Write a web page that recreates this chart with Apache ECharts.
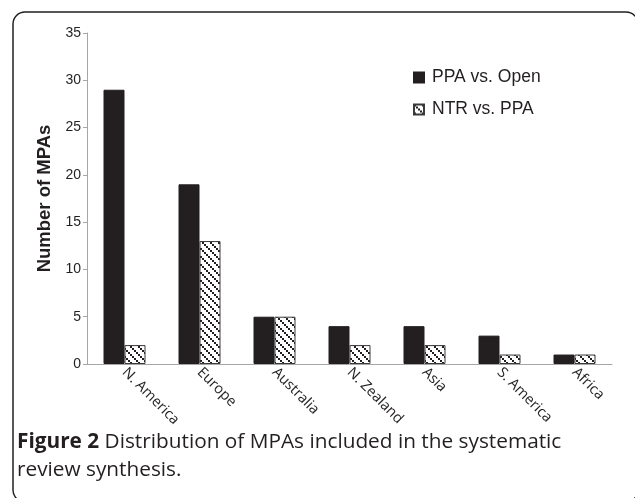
<!DOCTYPE html>
<html>
<head>
<meta charset="utf-8">
<script src="https://cdn.jsdelivr.net/npm/echarts@6/dist/echarts.min.js"></script>
<style>
html,body{margin:0;padding:0;background:#fff;}
#chart{width:635px;height:498px;}
</style>
</head>
<body>
<div id="chart"></div>
<script>
var categories = ['N. America', 'Europe', 'Australia', 'N. Zealand', 'Asia', 'S. America', 'Africa'];
var ppaVsOpen = [29, 19, 5, 4, 4, 3, 1];
var ntrVsPpa = [2, 13, 5, 2, 2, 1, 1];
var yTicks = [0, 5, 10, 15, 20, 25, 30, 35];
var seriesNames = ['PPA vs. Open', 'NTR vs. PPA'];
var captionBold = 'Figure 2';
var captionLine1 = ' Distribution of MPAs included in the systematic';
var captionLine2 = 'review synthesis.';

var DARK = '#231f20';

function makePattern() {
  var c = document.createElement('canvas');
  c.width = 8; c.height = 8;
  var ctx = c.getContext('2d');
  ctx.fillStyle = '#fff';
  ctx.fillRect(0, 0, 8, 8);
  ctx.fillStyle = DARK;
  ctx.fillRect(0, 0, 2, 2);
  ctx.fillRect(2, 2, 2, 2);
  ctx.fillRect(4, 4, 2, 2);
  ctx.fillRect(6, 6, 2, 2);
  return c;
}
var pattern = { image: makePattern(), repeat: 'repeat' };

var chart = echarts.init(document.getElementById('chart'), null, { renderer: 'canvas' });
chart.setOption({
  animation: false,
  backgroundColor: '#fff',
  grid: { left: 87, right: 23, top: 33, bottom: 134, containLabel: false },
  legend: {
    orient: 'vertical',
    left: 413,
    top: 68,
    padding: 0,
    itemWidth: 10,
    itemHeight: 10,
    itemGap: 13,
    icon: 'rect',
    textStyle: { fontFamily: 'Liberation Sans', fontSize: 17.5, lineHeight: 19, color: DARK, padding: [0, 0, 0, 3] },
    data: seriesNames
  },
  xAxis: {
    type: 'category',
    data: categories,
    axisLine: { lineStyle: { color: '#a6a6a6', width: 1 } },
    axisTick: { show: false },
    axisLabel: {
      rotate: -45,
      interval: 0,
      margin: 6,
      fontFamily: 'Open Sans',
      fontSize: 14.5,
      color: DARK
    }
  },
  yAxis: {
    type: 'value',
    min: yTicks[0],
    max: yTicks[yTicks.length - 1],
    interval: 5,
    name: 'Number of MPAs',
    nameLocation: 'middle',
    nameGap: 33,
    nameTextStyle: { fontFamily: 'Liberation Sans', fontSize: 18.5, fontWeight: 'bold', color: DARK },
    axisLine: { show: true, lineStyle: { color: '#a6a6a6', width: 1 } },
    axisTick: { show: true, length: 4, lineStyle: { color: '#a6a6a6' } },
    splitLine: { show: false },
    axisLabel: { fontFamily: 'Liberation Sans', fontSize: 14, color: DARK, margin: 6 }
  },
  series: [
    {
      name: seriesNames[0],
      type: 'bar',
      data: ppaVsOpen,
      barWidth: 21,
      barGap: '0%',
      itemStyle: { color: DARK, borderColor: DARK, borderWidth: 1 }
    },
    {
      name: seriesNames[1],
      type: 'bar',
      data: ntrVsPpa,
      barWidth: 21,
      itemStyle: { color: pattern, borderColor: '#3a3a3a', borderWidth: 1 }
    }
  ],
  graphic: [
    {
      type: 'rect',
      shape: { x: 13, y: 12, width: 625, height: 490, r: 12 },
      style: { fill: 'none', stroke: DARK, lineWidth: 1.5 },
      silent: true,
      z: 10
    },
    {
      type: 'text',
      left: 17,
      top: 432,
      style: {
        rich: {
          b: { fontFamily: 'Open Sans', fontSize: 20.8, fontWeight: 'bold', fill: DARK, lineHeight: 28 },
          n: { fontFamily: 'Open Sans', fontSize: 20.8, fill: DARK, lineHeight: 28 }
        },
        text: '{b|' + captionBold + '}{n|' + captionLine1 + '}\n{n|' + captionLine2 + '}'
      }
    }
  ]
});
</script>
</body>
</html>
